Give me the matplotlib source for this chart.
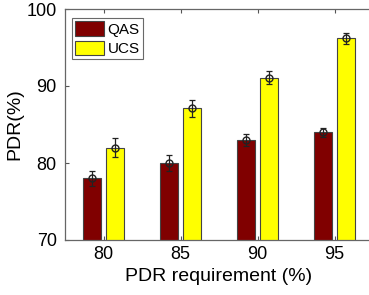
import numpy as np
import matplotlib
matplotlib.use('Agg')
import matplotlib.pyplot as plt

plt.rcParams['font.family'] = ['Liberation Sans', 'DejaVu Sans']

# %% data
categories = ['80', '85', '90', '95']
qas = [78.0, 80.0, 83.0, 84.0]
qas_err = [1.0, 1.0, 0.8, 0.6]
ucs = [82.0, 87.1, 91.1, 96.2]
ucs_err = [1.2, 1.1, 0.8, 0.7]

# %% plot
fig = plt.figure(figsize=(3.69, 2.95), dpi=100)
ax = fig.add_axes([65 / 369, 1 - 240 / 295, (373 - 65) / 369, (240 - 9) / 295])

x = np.arange(1, len(categories) + 1)
w = 0.235
off = 0.145
edge = '#444444'
ax.bar(x - off, qas, w, color='#800000', edgecolor=edge, linewidth=0.8, label='QAS')
ax.bar(x + off, ucs, w, color='#ffff00', edgecolor=edge, linewidth=0.8, label='UCS')
for xs, ys, es in [(x - off, qas, qas_err), (x + off, ucs, ucs_err)]:
    ax.errorbar(xs, ys, yerr=es, fmt='o', mfc='none', mec='#222222', ms=5,
                ecolor='#222222', elinewidth=0.9, capsize=2.5, capthick=0.9)

ax.set_xlim(0.5, 4.5)
ax.set_ylim(70, 100)
ax.set_xticks(x)
ax.set_xticklabels(categories)
ax.set_yticks([70, 80, 90, 100])
ax.tick_params(direction='in', length=3, width=0.8, color='#555555',
               labelsize=13, top=True, right=True)
ax.tick_params(axis='x', pad=4)
ax.tick_params(axis='y', pad=6)
for s in ax.spines.values():
    s.set_color('#666666')
    s.set_linewidth(0.9)
ax.set_xlabel('PDR requirement (%)', fontsize=14, labelpad=4)
ax.set_ylabel('PDR(%)', fontsize=14, labelpad=2)

# legend corner placed in pixels from the axes top-left
px = ax.get_position().width * 369
py = ax.get_position().height * 295
leg = ax.legend(loc='upper left', bbox_to_anchor=(7 / px, 1 - 9 / py),
                fontsize=11, frameon=True, fancybox=False,
                edgecolor='#444444', handlelength=1.9, handleheight=1.05,
                handletextpad=0.2, borderpad=0.22, labelspacing=0.26,
                borderaxespad=0)
leg.get_frame().set_linewidth(0.8)

fig.savefig('out.png', dpi=100)
